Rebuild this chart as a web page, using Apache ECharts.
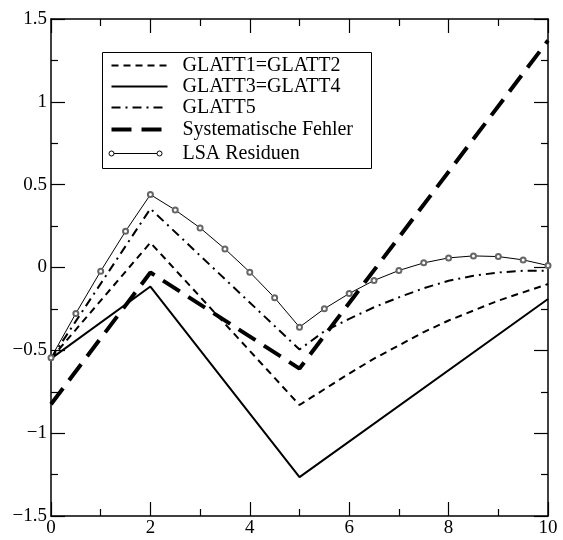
<!DOCTYPE html>
<html>
<head>
<meta charset="utf-8">
<script src="https://cdn.jsdelivr.net/npm/echarts@6/dist/echarts.min.js"></script>
<style>
html,body{margin:0;padding:0;background:#fff;}
#chart{width:563px;height:540px;}
</style>
</head>
<body>
<div id="chart"></div>
<script>
// ---- data ----
const legendNames = ['GLATT1=GLATT2', 'GLATT3=GLATT4', 'GLATT5', 'Systematische Fehler', 'LSA Residuen'];

const glatt12X = [0, 2, 5, 5.5, 6, 6.5, 7, 7.5, 8, 8.5, 9, 9.5, 10];
const glatt12Y = [-0.55, 0.15, -0.83, -0.735, -0.64, -0.55, -0.47, -0.39, -0.32, -0.26, -0.2, -0.15, -0.1];

const glatt34X = [0, 2, 5, 10];
const glatt34Y = [-0.55, -0.115, -1.265, -0.19];

const glatt5X = [0, 2, 5, 5.5, 6, 6.5, 7, 7.5, 8, 8.5, 9, 9.5, 10];
const glatt5Y = [-0.55, 0.355, -0.495, -0.385, -0.31, -0.24, -0.18, -0.125, -0.08, -0.05, -0.03, -0.02, -0.02];

const sysX = [0, 2, 5, 10];
const sysY = [-0.825, -0.03, -0.61, 1.37];

const lsaX = [0, 0.5, 1, 1.5, 2, 2.5, 3, 3.5, 4, 4.5, 5, 5.5, 6, 6.5, 7, 7.5, 8, 8.5, 9, 9.5, 10];
const lsaY = [-0.545, -0.277, -0.022, 0.219, 0.44, 0.347, 0.239, 0.112, -0.028, -0.183, -0.36, -0.249, -0.157, -0.078, -0.018, 0.028, 0.058, 0.07, 0.066, 0.046, 0.012];

const xTicks = [0, 2, 4, 6, 8, 10];
const yTicks = [-1.5, -1, -0.5, 0, 0.5, 1, 1.5];

// ---- build ----
function pairs(xs, ys) { return xs.map((x, i) => [x, ys[i]]); }
const FONT = 'Liberation Serif';
const black = '#000';

function axisCommon() {
  return {
    axisLine: { show: true, onZero: false, lineStyle: { color: black, width: 1.5 } },
    axisTick: { show: true, inside: true, length: 14, lineStyle: { color: black, width: 1.2 } },
    minorTick: { show: true, splitNumber: 2, length: 7, lineStyle: { color: black, width: 1.2 } },
    splitLine: { show: false },
    minorSplitLine: { show: false }
  };
}

function fmt(v) { return String(v).replace('-', '\u2212'); }

const chart = echarts.init(document.getElementById('chart'), null, { renderer: 'canvas' });

const option = {
  backgroundColor: '#fff',
  animation: false,
  grid: { left: 51, right: 15, top: 19, bottom: 24, containLabel: false },
  xAxis: [
    Object.assign({
      type: 'value', min: xTicks[0], max: xTicks[xTicks.length - 1], interval: 2, position: 'bottom',
      axisLabel: { color: black, fontFamily: FONT, fontSize: 19, margin: 3 }
    }, axisCommon()),
    Object.assign({
      type: 'value', min: xTicks[0], max: xTicks[xTicks.length - 1], interval: 2, position: 'top',
      axisLabel: { show: false }
    }, axisCommon())
  ],
  yAxis: [
    Object.assign({
      type: 'value', min: yTicks[0], max: yTicks[yTicks.length - 1], interval: 0.5, position: 'left',
      axisLabel: { color: black, fontFamily: FONT, fontSize: 19, margin: 4, formatter: fmt }
    }, axisCommon()),
    Object.assign({
      type: 'value', min: yTicks[0], max: yTicks[yTicks.length - 1], interval: 0.5, position: 'right',
      axisLabel: { show: false }
    }, axisCommon())
  ],
  series: [
    { name: legendNames[0], type: 'line', data: pairs(glatt12X, glatt12Y), symbol: 'none',
      lineStyle: { color: black, width: 2, type: [7, 5] } },
    { name: legendNames[1], type: 'line', data: pairs(glatt34X, glatt34Y), symbol: 'none',
      lineStyle: { color: black, width: 2, type: 'solid' } },
    { name: legendNames[2], type: 'line', data: pairs(glatt5X, glatt5Y), symbol: 'none',
      lineStyle: { color: black, width: 2, type: [9, 5, 2, 5] } },
    { name: legendNames[3], type: 'line', data: pairs(sysX, sysY), symbol: 'none',
      lineStyle: { color: black, width: 4, type: [20, 10] } },
    { name: legendNames[4], type: 'line', data: pairs(lsaX, lsaY), symbol: 'emptyCircle', symbolSize: 5,
      itemStyle: { color: '#666', borderColor: black, borderWidth: 1 },
      lineStyle: { color: black, width: 1 } }
  ],
  graphic: [
    { type: 'group', left: 102, top: 52, children: (function () {
      const rows = [13, 34, 55, 77, 101];
      const dashes = [[7, 5], null, [9, 5, 2, 5], [20, 10], null];
      const widths = [2, 2, 2, 4, 1];
      const kids = [{ type: 'rect', shape: { x: 0, y: 0, width: 269, height: 116 },
        style: { fill: '#fff', stroke: black, lineWidth: 1 } }];
      rows.forEach((ry, i) => {
        const x2 = i === 4 ? 57 : 65;
        kids.push({ type: 'line', shape: { x1: 9, y1: ry, x2: x2, y2: ry },
          style: { stroke: black, lineWidth: widths[i], lineDash: dashes[i] || null } });
        if (i === 4) {
          kids.push({ type: 'circle', shape: { cx: 9, cy: ry, r: 2.5 }, style: { fill: '#fff', stroke: black, lineWidth: 1 } });
          kids.push({ type: 'circle', shape: { cx: 57, cy: ry, r: 2.5 }, style: { fill: '#fff', stroke: black, lineWidth: 1 } });
        }
        kids.push({ type: 'text', x: 80, y: ry, style: { text: legendNames[i], fill: black,
          font: '20px "' + FONT + '"', textVerticalAlign: 'middle', verticalAlign: 'middle' } });
      });
      return kids;
    })() }
  ]
};
chart.setOption(option);
</script>
</body>
</html>
